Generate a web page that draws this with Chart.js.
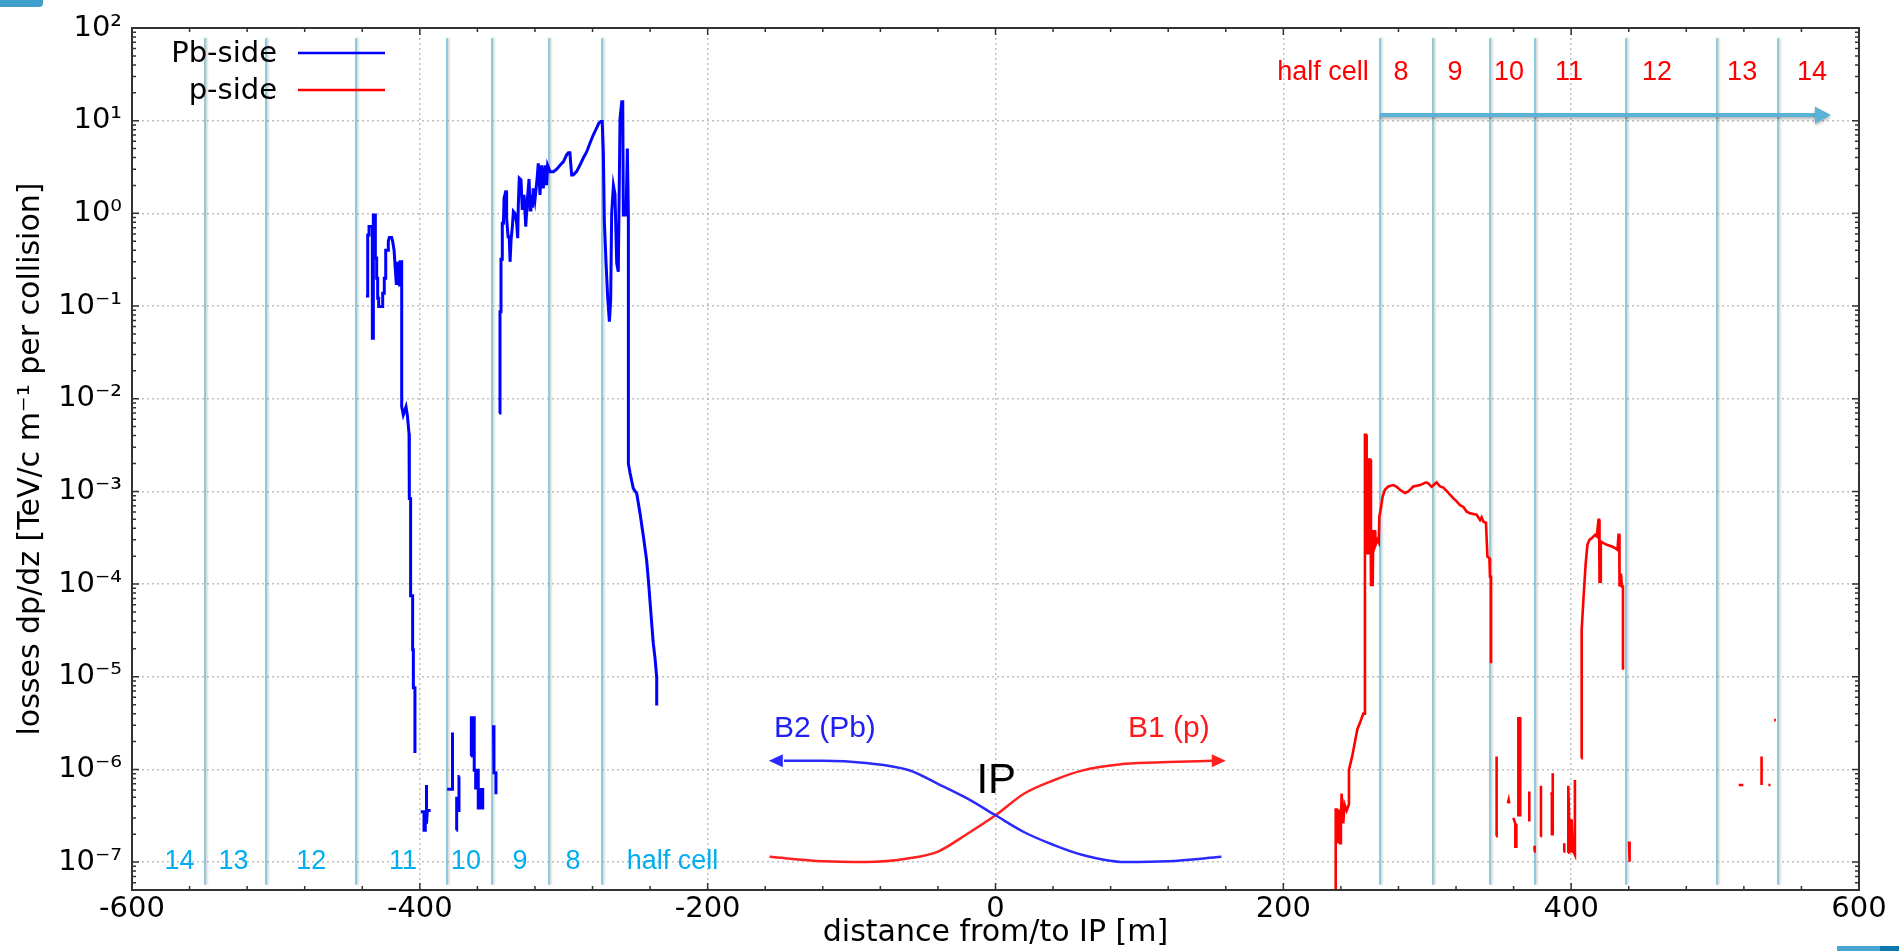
<!DOCTYPE html>
<html>
<head>
<meta charset="utf-8">
<title>Losses vs distance from IP</title>
<script src="https://cdn.jsdelivr.net/npm/chart.js@4.4.1/dist/chart.umd.min.js"></script>
<style>
  html, body { margin: 0; padding: 0; background: #fff; }
  #wrap { position: relative; width: 1899px; height: 951px; overflow: hidden; }
  .tab-tl { position: absolute; left: 0; top: 0; width: 43px; height: 7px; background: #3d9fca; border-bottom-right-radius: 4px; }
  .tab-br { position: absolute; left: 1837px; top: 946px; width: 62px; height: 5px; background: linear-gradient(90deg, #46a6d1 0 70%, #0b79ae 70% 100%); }
</style>
</head>
<body>
<div id="wrap">
  <canvas id="myChart" width="1899" height="951"></canvas>
  <div class="tab-tl"></div>
  <div class="tab-br"></div>
</div>
<script>
// Pb-side losses (blue), distance [m] / dp/dz, null = gap
const pbX = [
  -437.4, -436.2, -436.2, -435.3, -435.3, -433.0, -433.0, -432.3, -432.3, -430.9, -430.9, -430.0, -430.0, -429.3,
  -429.3, -428.6, -428.6, -425.8, -425.8, -424.7, -424.7, -423.7, -423.7, -421.9, -421.9, -421.2, -419.6, -418.9,
  -417.9, -417.0, -416.3, -415.4, -414.2, -413.8, -412.6, -412.6, -411.5, -409.6, -408.7, -407.5, -407.3, -406.4,
  -406.4, -405.0, -405.0, -404.5, -404.5, -403.4, -403.4, -403.4,
  -399.4, -397.1, -397.1, -396.2, -396.2, -395.7, -395.7, -395.2, -395.2, -394.8, -392.5, -392.5,
  -381.0, -377.6, -377.6, -377.0, -377.0,
  -374.6, -374.4, -374.4, -373.5, -373.5, -372.8, -372.8, -372.3, -372.3,
  -364.6, -364.2, -364.2, -362.2, -362.2, -361.2, -361.2, -360.5, -360.5, -359.4, -359.4, -358.6, -358.2, -357.5,
  -356.3, -356.3, -356.3,
  -348.8, -348.5, -348.5, -347.1, -347.1, -347.1,
  -345.0, -344.3, -344.3, -343.6, -343.6, -342.7, -342.7, -341.9, -341.5, -340.4, -339.9, -339.7, -338.7, -337.9,
  -337.3, -336.6, -335.7, -335.0, -333.9, -332.7, -332.0, -331.6, -330.9, -329.7, -328.8, -327.6, -326.4, -325.3,
  -324.1, -323.4, -322.8, -321.8, -321.2, -320.0, -318.4, -317.7, -316.5, -315.4, -314.2, -313.0, -311.9, -311.2,
  -309.5, -307.2, -304.9, -302.6, -300.3, -298.0, -296.8, -295.7, -295.2, -294.5, -293.4, -291.1, -288.8, -286.5,
  -284.1, -281.8, -279.5, -277.2, -275.6, -274.3, -273.3, -272.5, -271.8, -270.6, -269.5, -268.3, -267.4, -266.7,
  -265.5, -264.4, -263.2, -262.1, -260.9, -259.7, -259.0, -258.6, -256.7, -255.8, -255.1, -255.1, -254.0, -251.7,
  -249.3, -247.0, -244.7, -242.4, -241.2, -238.9, -237.8, -236.6, -235.4, -235.4
];
const pbY = [
  0.128, 0.128, 0.585, 0.585, 0.72, 0.72, 0.045, 0.045, 0.96, 0.96, 0.33, 0.33, 0.20, 0.20,
  0.121, 0.121, 0.099, 0.099, 0.137, 0.137, 0.20, 0.20, 0.40, 0.40, 0.50, 0.55, 0.55, 0.50,
  0.40, 0.245, 0.169, 0.30, 0.169, 0.30, 0.30, 0.0082, 0.0067, 0.0082, 0.0067, 0.0042, 0.00084, 0.00084,
  0.000075, 0.000075, 0.0000195, 0.0000195, 0.0000076, 0.0000076, 0.0000015, null,
  3.5e-7, 3.5e-7, 2.2e-7, 2.2e-7, 3.0e-7, 3.0e-7, 6.8e-7, 6.8e-7, 2.6e-7, 3.6e-7, 3.6e-7, null,
  6.1e-7, 6.1e-7, 2.5e-6, 2.5e-6, null,
  2.2e-7, 2.2e-7, 4.9e-7, 4.9e-7, 3.6e-7, 3.6e-7, 8.4e-7, 8.4e-7, null,
  1.4e-6, 1.4e-6, 3.6e-6, 3.6e-6, 9.8e-7, 9.8e-7, 6.3e-7, 6.3e-7, 9.8e-7, 9.8e-7, 3.7e-7, 6.3e-7, 3.7e-7, 6.3e-7,
  3.7e-7, 6.3e-7, null,
  3.0e-6, 3.0e-6, 9.2e-7, 9.2e-7, 5.4e-7, null,
  0.007, 0.007, 0.087, 0.087, 0.32, 0.32, 0.78, 0.78, 1.46, 1.71, 1.71, 0.89, 0.56, 0.56,
  0.30, 0.52, 0.72, 1.05, 1.0, 0.78, 0.54, 1.18, 2.4, 2.3, 1.09, 1.58, 0.72, 1.40,
  2.35, 1.09, 1.58, 1.15, 1.86, 1.40, 2.49, 3.47, 1.58, 3.3, 1.86, 3.3, 2.02, 3.3,
  2.82, 2.82, 3.0, 3.3, 3.6, 4.27, 4.5, 4.5, 3.5, 2.6, 2.6, 2.82, 3.3, 3.93,
  4.6, 5.7, 7.0, 8.3, 9.4, 9.8, 9.8, 4.6, 0.82, 0.29, 0.126, 0.068, 0.115, 1.0,
  2.0, 1.6, 0.29, 0.235, 10.6, 16, 16, 0.96, 0.96, 5.0, 0.96, 0.0020, 0.0016, 0.00108,
  0.00095, 0.00058, 0.00033, 0.00018, 0.00011, 0.000038, 0.000023, 0.000016, 0.0000098, 0.0000049
];

// p-side losses (red)
const pX = [
  235.4, 236.4, 236.4, 237.2, 237.7, 238.5, 239.4, 240.0, 240.5, 241.0, 241.7, 242.5, 244.0, 245.6,
  245.6, 246.3, 247.9, 249.8, 251.4, 253.3, 255.6, 256.7, 256.7, 257.6, 257.9, 259.2, 259.7, 260.4,
  260.9, 262.1, 262.5, 263.7, 263.9, 265.3, 266.3, 266.7, 267.9, 269.0, 270.6, 272.9, 276.4, 278.8,
  281.0, 284.5, 286.9, 290.3, 295.0, 299.1, 300.7, 303.1, 306.5, 308.9, 311.2, 313.5, 315.8, 318.2,
  320.4, 322.8, 325.1, 327.4, 329.7, 334.3, 336.7, 337.8, 339.0, 340.8, 341.8, 343.2, 343.6, 344.3,
  344.3, 344.3,
  347.8, 348.2, 348.2, 348.2,
  356.0, 356.6, 357.0, 357.0,
  359.8, 361.2, 361.2, 361.9, 361.9, 361.9,
  363.3, 363.3, 364.6, 364.6, 364.6,
  370.9, 370.9, 370.9,
  374.2, 374.6, 374.6,
  378.6, 379.0, 379.0, 379.0,
  385.5, 386.6, 386.6, 387.2, 387.2, 387.2,
  394.6, 395.2, 395.2, 395.2,
  397.8, 398.0, 398.0, 398.6, 399.5, 400.3, 401.2, 402.0, 402.6, 402.6, 402.6,
  407.0, 407.3, 407.3, 408.5, 410.1, 411.3, 412.7, 414.3, 416.6, 417.8, 419.0, 419.4, 419.7, 420.3,
  420.6, 422.5, 424.8, 428.3, 430.6, 432.2, 432.9, 433.4, 433.6, 434.6, 435.3, 436.0, 436.0, 436.0,
  440.2, 440.6, 440.6, 440.6,
  516.4, 519.6, 519.6,
  532.3, 532.3, 532.3,
  537.0, 538.5, 538.5,
  541.0, 542.2
];
const pY = [
  4e-8, 4e-8, 3.7e-7, 3.7e-7, 1.6e-7, 3.7e-7, 1.6e-7, 2.7e-7, 5.5e-7, 2.7e-7, 2.7e-7, 4.2e-7, 3.6e-7, 4.2e-7,
  9.9e-7, 1.1e-6, 1.4e-6, 2.0e-6, 2.7e-6, 3.2e-6, 4.0e-6, 4.0e-6, 4.07e-3, 4.07e-3, 2.15e-4, 2.15e-4, 2.2e-3, 2.2e-3,
  9.8e-5, 9.8e-5, 3.7e-4, 3.7e-4, 2.6e-4, 3.0e-4, 2.8e-4, 5.3e-4, 6.8e-4, 8.8e-4, 1.04e-3, 1.13e-3, 1.17e-3, 1.12e-3,
  1.04e-3, 9.6e-4, 1.0e-3, 1.13e-3, 1.17e-3, 1.25e-3, 1.22e-3, 1.12e-3, 1.25e-3, 1.13e-3, 1.1e-3, 1.01e-3, 9.2e-4, 8.4e-4,
  7.8e-4, 7.1e-4, 6.8e-4, 6.05e-4, 5.8e-4, 5.6e-4, 4.9e-4, 5.25e-4, 4.7e-4, 4.6e-4, 1.98e-4, 1.9e-4, 1.2e-4, 1.2e-4,
  1.4e-5, null,
  1.9e-7, 1.9e-7, 1.38e-6, null,
  4.3e-7, 4.7e-7, 4.3e-7, null,
  3.0e-7, 2.6e-7, 1.47e-7, 1.47e-7, 2.6e-7, null,
  3.1e-7, 3.57e-6, 3.57e-6, 3.1e-7, null,
  2.74e-7, 5.78e-7, null,
  1.3e-7, 1.5e-7, null,
  1.9e-7, 1.9e-7, 6.65e-7, null,
  5.5e-7, 5.5e-7, 2.0e-7, 2.0e-7, 9.1e-7, null,
  1.3e-7, 1.3e-7, 1.6e-7, null,
  1.26e-7, 1.26e-7, 6.65e-7, 2.9e-7, 1.26e-7, 2.9e-7, 1.3e-7, 1.26e-7, 7.7e-7, 1.2e-7, null,
  1.32e-6, 1.32e-6, 3.2e-5, 6.8e-5, 1.68e-4, 2.65e-4, 3.0e-4, 3.13e-4, 3.4e-4, 3.27e-4, 4.93e-4, 4.93e-4, 1.06e-4, 1.06e-4,
  2.88e-4, 2.76e-4, 2.65e-4, 2.54e-4, 2.44e-4, 2.34e-4, 3.4e-4, 3.4e-4, 9.4e-5, 1.3e-4, 9.4e-5, 9.4e-5, 1.19e-5, null,
  1.67e-7, 1.67e-7, 1.01e-7, null,
  6.8e-7, 6.8e-7, null,
  1.38e-6, 6.8e-7, null,
  6.8e-7, 6.8e-7, null,
  3.4e-6, 3.4e-6
];

// beam sketch around the IP
const b2X = [-147, -120, -90, -60, -40, -20, 0, 20, 40, 60, 90, 120, 157];
const b2Y = [1.24e-6, 1.24e-6, 1.17e-6, 9.8e-7, 7.0e-7, 4.9e-7, 3.2e-7, 2.1e-7, 1.54e-7, 1.2e-7, 1.0e-7, 1.02e-7, 1.14e-7];
const b1X = [-157, -120, -90, -60, -40, -20, 0, 20, 40, 60, 90, 120, 151];
const b1Y = [1.14e-7, 1.02e-7, 1.0e-7, 1.1e-7, 1.3e-7, 2.0e-7, 3.2e-7, 5.5e-7, 7.6e-7, 9.7e-7, 1.15e-6, 1.2e-6, 1.24e-6];

// half cell boundaries and names
const leftCellEdges = [-549.3, -506.9, -444.4, -381.1, -349.8, -310.2, -273.4];
const rightCellEdges = [267.2, 304.0, 343.6, 374.9, 438.1, 501.3, 543.4];
const leftCellNames = ['14', '13', '12', '11', '10', '9', '8', 'half cell'];
const leftCellNameX = [-567, -529.5, -475.5, -411.7, -368, -330.4, -293.6, -224.5];
const rightCellNames = ['half cell', '8', '9', '10', '11', '12', '13', '14'];
const rightCellNameX = [227.5, 281.7, 319.3, 356.8, 398.5, 459.7, 518.8, 567.4];

// axis ticks
const xTickValues = [-600, -400, -200, 0, 200, 400, 600];
const yTickExp = [-7, -6, -5, -4, -3, -2, -1, 0, 1, 2];
const yTickLabels = ['10⁻⁷', '10⁻⁶', '10⁻⁵', '10⁻⁴', '10⁻³', '10⁻²', '10⁻¹', '10⁰', '10¹', '10²'];

const toPoints = (xs, ys) => xs.map((x, i) => ({x: x, y: ys[i]}));
const isDecade = v => { const e = Math.log10(v); return Math.abs(e - Math.round(e)) < 1e-6; };

const axisFont = "'DejaVu Sans', sans-serif";
const noteFont = "'Liberation Sans', Arial, sans-serif";
const gridColor = 'rgba(150,150,150,0.6)';

const decor = {
  id: 'decor',
  beforeDatasetsDraw(chart) {
    const {ctx, scales: {x, y}} = chart;
    const yTop = y.getPixelForValue(78), yBot = y.getPixelForValue(5.7e-8);
    ctx.save();
    ctx.strokeStyle = '#7fc3dc';
    ctx.lineWidth = 1.7;
    ctx.shadowColor = 'rgba(0,0,0,0.22)';
    ctx.shadowBlur = 2;
    ctx.shadowOffsetX = 1.5;
    leftCellEdges.concat(rightCellEdges).forEach(v => {
      const px = Math.round(x.getPixelForValue(v));
      ctx.beginPath(); ctx.moveTo(px, yTop); ctx.lineTo(px, yBot); ctx.stroke();
    });
    ctx.restore();
  },
  afterDatasetsDraw(chart) {
    const {ctx, scales: {x, y}} = chart;
    ctx.save();
    // arrow over the p-side half cells
    const ay = y.getPixelForValue(11.5);
    const ax0 = x.getPixelForValue(rightCellEdges[0]), ax1 = x.getPixelForValue(580.5);
    ctx.shadowColor = 'rgba(0,0,0,0.3)';
    ctx.shadowBlur = 3;
    ctx.shadowOffsetY = 2;
    ctx.strokeStyle = '#5ab3d6';
    ctx.fillStyle = '#5ab3d6';
    ctx.lineWidth = 4;
    ctx.beginPath(); ctx.moveTo(ax0, ay); ctx.lineTo(ax1 - 14, ay); ctx.stroke();
    ctx.beginPath(); ctx.moveTo(ax1, ay); ctx.lineTo(ax1 - 16, ay - 8.5); ctx.lineTo(ax1 - 16, ay + 8.5); ctx.closePath(); ctx.fill();
    ctx.shadowColor = 'transparent';

    // beam arrow heads
    const head = (px, py, dir, color) => {
      ctx.fillStyle = color;
      ctx.beginPath(); ctx.moveTo(px, py); ctx.lineTo(px - dir * 14, py - 6.5); ctx.lineTo(px - dir * 14, py + 6.5); ctx.closePath(); ctx.fill();
    };
    head(x.getPixelForValue(-157.5), y.getPixelForValue(b2Y[0]), -1, '#2a2aff');
    head(x.getPixelForValue(160), y.getPixelForValue(b1Y[b1Y.length - 1]), 1, '#ff2020');

    // cell names
    ctx.textAlign = 'center';
    ctx.textBaseline = 'alphabetic';
    ctx.font = '27px ' + noteFont;
    ctx.fillStyle = '#00aeef';
    leftCellNames.forEach((t, i) => ctx.fillText(t, x.getPixelForValue(leftCellNameX[i]), y.getPixelForValue(8.5e-8)));
    ctx.fillStyle = '#ff0000';
    rightCellNames.forEach((t, i) => ctx.fillText(t, x.getPixelForValue(rightCellNameX[i]), y.getPixelForValue(27.8)));

    // beam names
    ctx.font = '30px ' + noteFont;
    ctx.fillStyle = '#2020f0';
    ctx.fillText('B2 (Pb)', x.getPixelForValue(-118.5), y.getPixelForValue(2.26e-6));
    ctx.fillStyle = '#ff1a1a';
    ctx.fillText('B1 (p)', x.getPixelForValue(120.5), y.getPixelForValue(2.26e-6));
    ctx.font = '42px ' + noteFont;
    ctx.fillStyle = '#000';
    ctx.fillText('IP', x.getPixelForValue(0.5), y.getPixelForValue(5.6e-7));
    ctx.restore();
  },
  afterDraw(chart) {
    const {ctx, chartArea: a, scales: {x, y}} = chart;
    ctx.save();
    // legend
    ctx.font = '29px ' + axisFont;
    ctx.textAlign = 'right';
    ctx.textBaseline = 'middle';
    chart.data.datasets.slice(0, 2).forEach((ds, i) => {
      const ly = a.top + 25 + i * 37;
      ctx.fillStyle = '#000';
      ctx.fillText(ds.label, a.left + 145, ly + 1);
      ctx.strokeStyle = ds.borderColor;
      ctx.lineWidth = 2.5;
      ctx.beginPath(); ctx.moveTo(a.left + 166, ly); ctx.lineTo(a.left + 253, ly); ctx.stroke();
    });
    // frame with inward ticks
    ctx.strokeStyle = '#333';
    ctx.lineWidth = 2;
    ctx.strokeRect(a.left, a.top, a.right - a.left, a.bottom - a.top);
    ctx.lineWidth = 1.5;
    ctx.beginPath();
    x.ticks.forEach(t => {
      const px = x.getPixelForValue(t.value);
      const len = t.value % 200 === 0 ? 7 : 4;
      ctx.moveTo(px, a.bottom); ctx.lineTo(px, a.bottom - len);
      ctx.moveTo(px, a.top); ctx.lineTo(px, a.top + len);
    });
    for (let e = -8; e <= 2; e++) {
      for (let m = 1; m <= 9; m++) {
        const v = m * Math.pow(10, e);
        if (v < y.min || v > y.max) continue;
        const py = y.getPixelForValue(v);
        const len = m === 1 ? 7 : 4;
        ctx.moveTo(a.left, py); ctx.lineTo(a.left + len, py);
        ctx.moveTo(a.right, py); ctx.lineTo(a.right - len, py);
      }
    }
    ctx.stroke();
    ctx.restore();
  }
};

const ctx = document.getElementById('myChart').getContext('2d');
const myChart = new Chart(ctx, {
  type: 'line',
  data: {
    datasets: [
      { label: 'Pb-side', data: toPoints(pbX, pbY), borderColor: '#0000ff', borderWidth: 3, pointRadius: 0, tension: 0, spanGaps: false },
      { label: 'p-side', data: toPoints(pX, pY), borderColor: '#ff0000', borderWidth: 2.6, pointRadius: 0, tension: 0, spanGaps: false },
      { label: 'B2 (Pb)', data: toPoints(b2X, b2Y), borderColor: '#2a2aff', borderWidth: 2.5, pointRadius: 0, cubicInterpolationMode: 'monotone' },
      { label: 'B1 (p)', data: toPoints(b1X, b1Y), borderColor: '#ff2020', borderWidth: 2.5, pointRadius: 0, cubicInterpolationMode: 'monotone' }
    ]
  },
  options: {
    responsive: false,
    animation: false,
    layout: { padding: { top: 28, right: 40, left: 0, bottom: 0 } },
    plugins: { legend: { display: false }, tooltip: { enabled: false } },
    scales: {
      x: {
        type: 'linear',
        min: -600,
        max: 600,
        ticks: {
          stepSize: 40,
          autoSkip: false,
          maxRotation: 0,
          padding: 2,
          color: '#000',
          font: { family: axisFont, size: 29 },
          callback: v => xTickValues.includes(v) ? String(v) : ''
        },
        grid: {
          color: c => (c.tick && xTickValues.includes(c.tick.value)) ? gridColor : 'transparent',
          lineWidth: 1.5,
          drawTicks: false
        },
        border: { display: false, dash: [2, 3] },
        title: {
          display: true,
          text: 'distance from/to IP [m]',
          color: '#000',
          font: { family: axisFont, size: 30 },
          padding: { top: 0, bottom: 0 }
        },
        afterFit: s => { s.height = 61; }
      },
      y: {
        type: 'logarithmic',
        min: 5e-8,
        max: 100,
        ticks: {
          autoSkip: false,
          padding: 10,
          color: '#000',
          font: { family: axisFont, size: 29 },
          callback: v => isDecade(v) ? yTickLabels[yTickExp.indexOf(Math.round(Math.log10(v)))] || '' : ''
        },
        grid: {
          color: c => (c.tick && isDecade(c.tick.value)) ? gridColor : 'transparent',
          lineWidth: 1.5,
          drawTicks: false
        },
        border: { display: false, dash: [2, 3] },
        title: {
          display: true,
          text: 'losses dp/dz [TeV/c m⁻¹ per collision]',
          color: '#000',
          font: { family: axisFont, size: 30 },
          padding: { top: 13, bottom: 0 }
        },
        afterFit: s => { s.width = 132; }
      }
    }
  },
  plugins: [decor]
});
</script>
</body>
</html>
